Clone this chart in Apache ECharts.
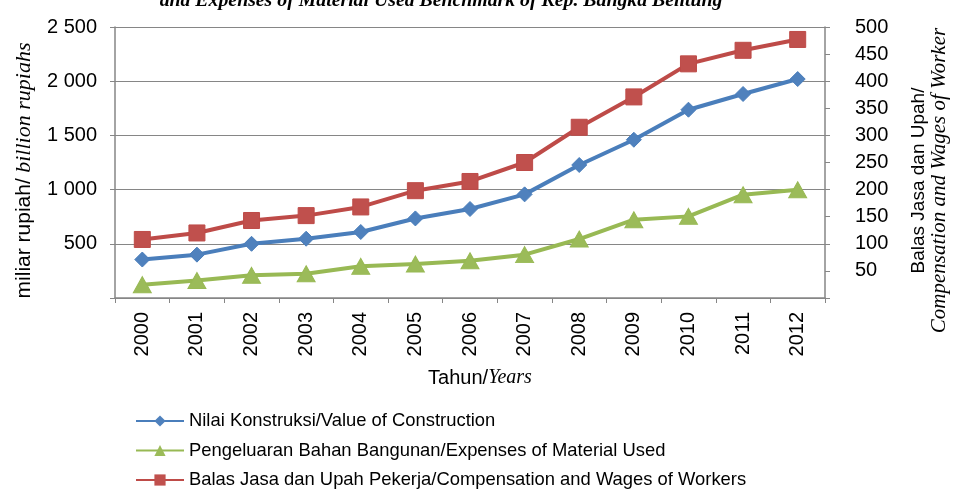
<!DOCTYPE html>
<html>
<head>
<meta charset="utf-8">
<title>Nilai Konstruksi, Balas Jasa dan Pengeluaran Bahan Bangunan</title>
<script src="https://cdn.jsdelivr.net/npm/echarts@6/dist/echarts.min.js"></script>
<style>
  html, body { margin: 0; padding: 0; background: #fff; }
  #chart { width: 953px; height: 493px; }
</style>
</head>
<body>
<div id="chart"></div>
<script>
// Years on the category axis
const years = ['2000', '2001', '2002', '2003', '2004', '2005', '2006',
               '2007', '2008', '2009', '2010', '2011', '2012'];

// Left axis (miliar rupiah)
const valueOfConstruction = [355, 400, 500, 547, 609, 734, 821, 956, 1227, 1460, 1737, 1882, 2020];
const materialExpenses    = [123, 162, 209, 224, 292, 314, 344, 400, 544, 722, 753, 953, 999];

// Right axis (balas jasa dan upah)
const workerCompensation  = [108, 120, 143, 152, 168, 198, 215, 250, 315, 371, 432, 457, 477];

// Axis ranges / tick spacing
const leftTicks  = { min: 0, max: 2500, interval: 500 };
const rightTicks = { min: 0, max: 500, interval: 50 };

const seriesNames = [
  'Nilai Konstruksi/Value of Construction',
  'Pengeluaran Bahan Bangunan/Expenses of Material Used',
  'Balas Jasa dan Upah Pekerja/Compensation and Wages of Workers'
];

const SANS = 'Liberation Sans, Arial, sans-serif';
const SERIF = 'Liberation Serif, Times New Roman, serif';
const AXIS_GRAY = '#868686';

// "2500" -> "2 500"
function spaced(v) {
  if (v === 0) return '';
  return String(v).replace(/\B(?=(\d{3})+(?!\d))/g, ' ');
}

const chart = echarts.init(document.getElementById('chart'), null, { renderer: 'canvas' });

chart.setOption({
  backgroundColor: '#ffffff',
  animation: false,
  graphic: [{
    type: 'text',
    x: 441,
    y: 11,
    style: {
      text: 'and Expenses of Material Used Benchmark of Kep. Bangka Belitung',
      font: 'italic bold 19.8px ' + SERIF,
      fill: '#000',
      textAlign: 'center',
      textVerticalAlign: 'bottom'
    }
  }],
  grid: { left: 115, right: 128, top: 27, bottom: 195, containLabel: false, outerBoundsMode: 'none' },
  legend: {
    orient: 'vertical',
    left: 135,
    top: 411,
    padding: 0,
    itemWidth: 48,
    itemHeight: 14,
    itemGap: 9.5,
    textStyle: { fontFamily: SANS, fontSize: 18.4, color: '#000', lineHeight: 20 },
    data: seriesNames
  },
  xAxis: {
    type: 'category',
    data: years,
    boundaryGap: true,
    name: '{a|Tahun/}{b|Years}',
    nameLocation: 'middle',
    nameGap: 70,
    nameTextStyle: {
      padding: [0, 0, 0, 20],
      rich: {
        a: { fontFamily: SANS, fontSize: 20, color: '#000' },
        b: { fontFamily: SERIF, fontStyle: 'italic', fontSize: 20, color: '#000' }
      }
    },
    axisLine: { show: true, lineStyle: { color: AXIS_GRAY, width: 1.5 } },
    axisTick: { show: true, length: 5, lineStyle: { color: AXIS_GRAY } },
    axisLabel: { rotate: 90, margin: 14, fontFamily: SANS, fontSize: 20, color: '#000' },
    splitLine: { show: false }
  },
  yAxis: [{
    type: 'value',
    position: 'left',
    min: leftTicks.min,
    max: leftTicks.max,
    interval: leftTicks.interval,
    name: '{a|miliar rupiah/}{b| billion rupiahs}',
    nameLocation: 'middle',
    nameGap: 80,
    nameRotate: 90,
    nameTextStyle: {
      padding: [0, 16, 0, 0],
      rich: {
        a: { fontFamily: SANS, fontSize: 21, color: '#000' },
        b: { fontFamily: SERIF, fontStyle: 'italic', fontSize: 22, color: '#000' }
      }
    },
    axisLine: { show: true, lineStyle: { color: AXIS_GRAY, width: 1.5 } },
    axisTick: { show: true, length: 5, lineStyle: { color: AXIS_GRAY } },
    axisLabel: { margin: 18, fontFamily: SANS, fontSize: 20, color: '#000', formatter: spaced },
    splitLine: { show: true, lineStyle: { color: AXIS_GRAY, width: 1 } }
  }, {
    type: 'value',
    position: 'right',
    min: rightTicks.min,
    max: rightTicks.max,
    interval: rightTicks.interval,
    name: '{a|Balas Jasa dan Upah/}\n{b|Compensation and Wages of Worker}',
    nameLocation: 'middle',
    nameGap: 83,
    nameRotate: 90,
    nameTextStyle: {
      padding: [0, 36, 0, 0],
      rich: {
        a: { fontFamily: SANS, fontSize: 19, color: '#000', lineHeight: 21 },
        b: { fontFamily: SERIF, fontStyle: 'italic', fontSize: 21, color: '#000', lineHeight: 21 }
      }
    },
    axisLine: { show: true, lineStyle: { color: AXIS_GRAY, width: 1.5 } },
    axisTick: { show: true, length: 5, lineStyle: { color: AXIS_GRAY } },
    axisLabel: { margin: 30, fontFamily: SANS, fontSize: 20, color: '#000', formatter: spaced },
    splitLine: { show: false }
  }],
  series: [{
    name: seriesNames[0],
    type: 'line',
    yAxisIndex: 0,
    data: valueOfConstruction,
    symbol: 'diamond',
    symbolSize: 15,
    lineStyle: { color: '#4A7EBB', width: 4 },
    itemStyle: { color: '#4F81BD', borderColor: '#4A7EBB' },
    z: 3
  }, {
    name: seriesNames[1],
    type: 'line',
    yAxisIndex: 0,
    data: materialExpenses,
    symbol: 'triangle',
    symbolSize: [18, 16],
    lineStyle: { color: '#98B954', width: 4 },
    itemStyle: { color: '#9BBB59', borderColor: '#98B954' },
    z: 2
  }, {
    name: seriesNames[2],
    type: 'line',
    yAxisIndex: 1,
    data: workerCompensation,
    symbol: 'rect',
    symbolSize: 16,
    lineStyle: { color: '#BE4B48', width: 4 },
    itemStyle: { color: '#C0504D', borderColor: '#BE4B48' },
    z: 4
  }]
});
</script>
</body>
</html>
